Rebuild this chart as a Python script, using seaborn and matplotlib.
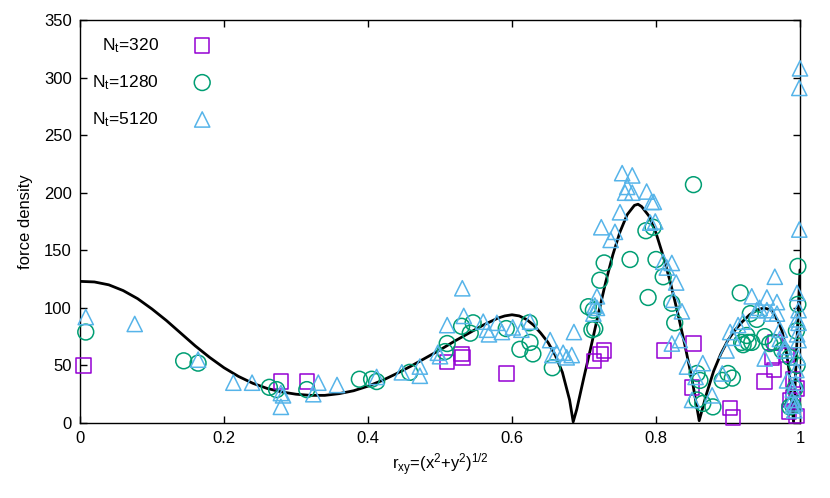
import matplotlib
matplotlib.use("Agg")
import matplotlib.pyplot as plt
import seaborn as sns

# black curve
curve_x = [0, 0.02, 0.04, 0.06, 0.08, 0.10, 0.12, 0.14, 0.16, 0.18, 0.20, 0.22,
           0.24, 0.26, 0.28, 0.30, 0.32, 0.34, 0.36, 0.38, 0.40, 0.42, 0.44, 0.46,
           0.48, 0.50, 0.52, 0.54, 0.56, 0.57, 0.58, 0.59, 0.60, 0.61, 0.62, 0.63,
           0.64, 0.65, 0.66, 0.67, 0.68, 0.685, 0.69, 0.70, 0.71, 0.72, 0.73, 0.74,
           0.75, 0.76, 0.77, 0.775, 0.78, 0.79, 0.80, 0.81, 0.82, 0.83, 0.84, 0.85,
           0.86, 0.87, 0.88, 0.89, 0.90, 0.91, 0.92, 0.93, 0.94, 0.95, 0.96, 0.97,
           0.975, 0.98, 0.985, 0.991, 1.0]
curve_y = [123, 122.5, 120, 115, 108, 99, 89, 78, 67, 57, 48, 40.5,
           34.5, 30, 27, 25, 24, 24, 25.5, 28, 32, 37, 43, 49.5,
           56.5, 63.5, 71, 78, 85, 88, 91, 93, 94, 93, 90, 85,
           78, 70, 59, 44, 20, 1, 12, 40, 67, 95, 122, 146,
           166, 181, 189, 190, 188, 180, 165, 145, 122, 96, 68, 38,
           2, 25, 45, 60, 72, 81, 88, 94, 98, 100, 98, 88,
           80, 66, 45, 1, 133]

# N_t = 320
sq_x = [0.005, 0.279, 0.315, 0.51, 0.53, 0.531, 0.592, 0.714, 0.723, 0.728, 0.811,
        0.852, 0.85, 0.903, 0.907, 0.951, 0.961, 0.964, 0.965, 0.982, 0.986, 0.99,
        0.995, 0.985, 0.995, 0.99]
sq_y = [50, 36, 36, 53, 60, 57, 43, 54, 60, 63, 63,
        69, 31, 13, 5, 36, 57, 46, 70, 59, 20, 38,
        30, 10, 6, 22]

# N_t = 1280
ci_x = [0.008, 0.144, 0.164, 0.263, 0.273, 0.315, 0.388, 0.405, 0.412, 0.458, 0.507,
        0.51, 0.53, 0.542, 0.546, 0.592, 0.611, 0.624, 0.625, 0.629, 0.656, 0.706,
        0.711, 0.713, 0.715, 0.722, 0.728, 0.764, 0.786, 0.789, 0.796, 0.8, 0.81,
        0.822, 0.826, 0.852, 0.857, 0.861, 0.857, 0.865, 0.879, 0.892, 0.9, 0.906,
        0.917, 0.919, 0.921, 0.926, 0.928, 0.931, 0.933, 0.94, 0.951, 0.958, 0.963,
        0.975, 0.986, 0.986, 0.997, 0.997, 0.995, 0.996, 0.993, 0.99]
ci_y = [79, 54, 52, 31, 29, 29, 38, 38, 36, 44, 62,
        69, 84, 78, 87, 82, 64, 87, 70, 60, 48, 101,
        81, 98, 82, 124, 139, 142, 167, 109, 170, 142, 127,
        104, 87, 207, 43, 37, 20, 17, 14, 37, 43, 39,
        113, 70, 68, 76, 70, 95, 70, 90, 75, 69, 70,
        63, 14, 57, 136, 103, 80, 50, 30, 15]

# N_t = 5120
tr_x = [0.008, 0.076, 0.164, 0.213, 0.239, 0.279, 0.279, 0.282, 0.324, 0.331, 0.357,
        0.412, 0.447, 0.472, 0.472, 0.497, 0.5, 0.51, 0.531, 0.533, 0.56, 0.565,
        0.568, 0.579, 0.586, 0.601, 0.613, 0.625, 0.653, 0.656, 0.662, 0.671, 0.683,
        0.676, 0.686, 0.713, 0.715, 0.718, 0.718, 0.724, 0.737, 0.743, 0.75, 0.753,
        0.757, 0.76, 0.767, 0.767, 0.787, 0.794, 0.797, 0.792, 0.799, 0.81, 0.815,
        0.822, 0.824, 0.828, 0.822, 0.833, 0.836, 0.843, 0.85, 0.855, 0.865, 0.878,
        0.892, 0.898, 0.903, 0.907, 0.914, 0.921, 0.933, 0.94, 0.944, 0.951, 0.954,
        0.954, 0.96, 0.965, 0.968, 0.968, 0.972, 0.972, 0.979, 0.979, 0.982, 0.989,
        0.99, 0.99, 0.996, 0.996, 0.996, 1.0, 0.999, 0.999, 0.998, 0.998, 0.998,
        0.997, 0.995, 0.994, 0.993, 0.992]
tr_y = [92, 86, 55, 35, 35, 26, 14, 24, 25, 35, 33,
        40, 44, 49, 41, 61, 58, 85, 117, 93, 88, 81,
        77, 87, 79, 83, 81, 88, 72, 59, 61, 61, 59,
        57, 79, 95, 102, 110, 100, 170, 159, 166, 183, 217,
        200, 205, 215, 200, 201, 192, 192, 174, 175, 140, 135,
        139, 107, 122, 69, 72, 97, 49, 20, 40, 52, 24,
        43, 63, 79, 74, 85, 88, 110, 98, 100, 56, 109,
        98, 95, 127, 105, 95, 81, 73, 66, 63, 37, 20,
        29, 15, 113, 90, 77, 308, 291, 168, 98, 87, 72,
        57, 46, 35, 17, 11]

purple = "#9400d3"
green = "#009e73"
blue = "#56b4e9"

sns.set_style("ticks")
plt.rcParams["font.family"] = ["Liberation Sans", "DejaVu Sans"]
plt.rcParams["mathtext.fontset"] = "custom"
plt.rcParams["mathtext.rm"] = "Liberation Sans"
plt.rcParams["mathtext.it"] = "Liberation Sans"
for key in ["text.color", "axes.labelcolor", "xtick.color", "ytick.color"]:
    plt.rcParams[key] = "black"

fig = plt.figure(figsize=(8.3, 4.98), dpi=100)
ax = fig.add_axes([80 / 830, 1 - 423 / 498, 720 / 830, 403 / 498])

sns.lineplot(x=curve_x, y=curve_y, color="black", linewidth=2.0, ax=ax,
             sort=False, estimator=None)

sns.scatterplot(x=sq_x, y=sq_y, marker="s", s=110, color=purple, facecolor="none",
                edgecolor=purple, linewidth=1.1, ax=ax, label=r"N$_\mathrm{t}$=320",
                clip_on=False, zorder=3)
sns.scatterplot(x=ci_x, y=ci_y, marker="o", s=130, color=green, facecolor="none",
                edgecolor=green, linewidth=1.1, ax=ax, label=r"N$_\mathrm{t}$=1280",
                clip_on=False, zorder=4)
sns.scatterplot(x=tr_x, y=tr_y, marker="^", s=120, color=blue, facecolor="none",
                edgecolor=blue, linewidth=1.1, ax=ax, label=r"N$_\mathrm{t}$=5120",
                clip_on=False, zorder=5)

ax.set_xlim(0, 1)
ax.set_ylim(0, 350)
ax.set_xticks([0, 0.2, 0.4, 0.6, 0.8, 1])
ax.set_xticklabels(["0", "0.2", "0.4", "0.6", "0.8", "1"])
ax.set_yticks(range(0, 351, 50))
ax.tick_params(direction="in", top=True, right=True, length=5, width=1,
               labelsize=12, pad=6, colors="black")
for sp in ax.spines.values():
    sp.set_visible(True)
    sp.set_linewidth(1)
    sp.set_color("black")

ax.set_xlabel(r"r$_\mathrm{xy}$=(x$^2$+y$^2$)$^{1/2}$", fontsize=12, labelpad=4)
ax.set_ylabel("force density", fontsize=12, labelpad=8)

leg = ax.legend(loc="upper left", frameon=False, markerfirst=False, fontsize=12.5,
                labelspacing=1.05, handletextpad=1.5, borderaxespad=0.3,
                bbox_to_anchor=(0.0, 0.99))

fig.savefig("out.png", dpi=100)
